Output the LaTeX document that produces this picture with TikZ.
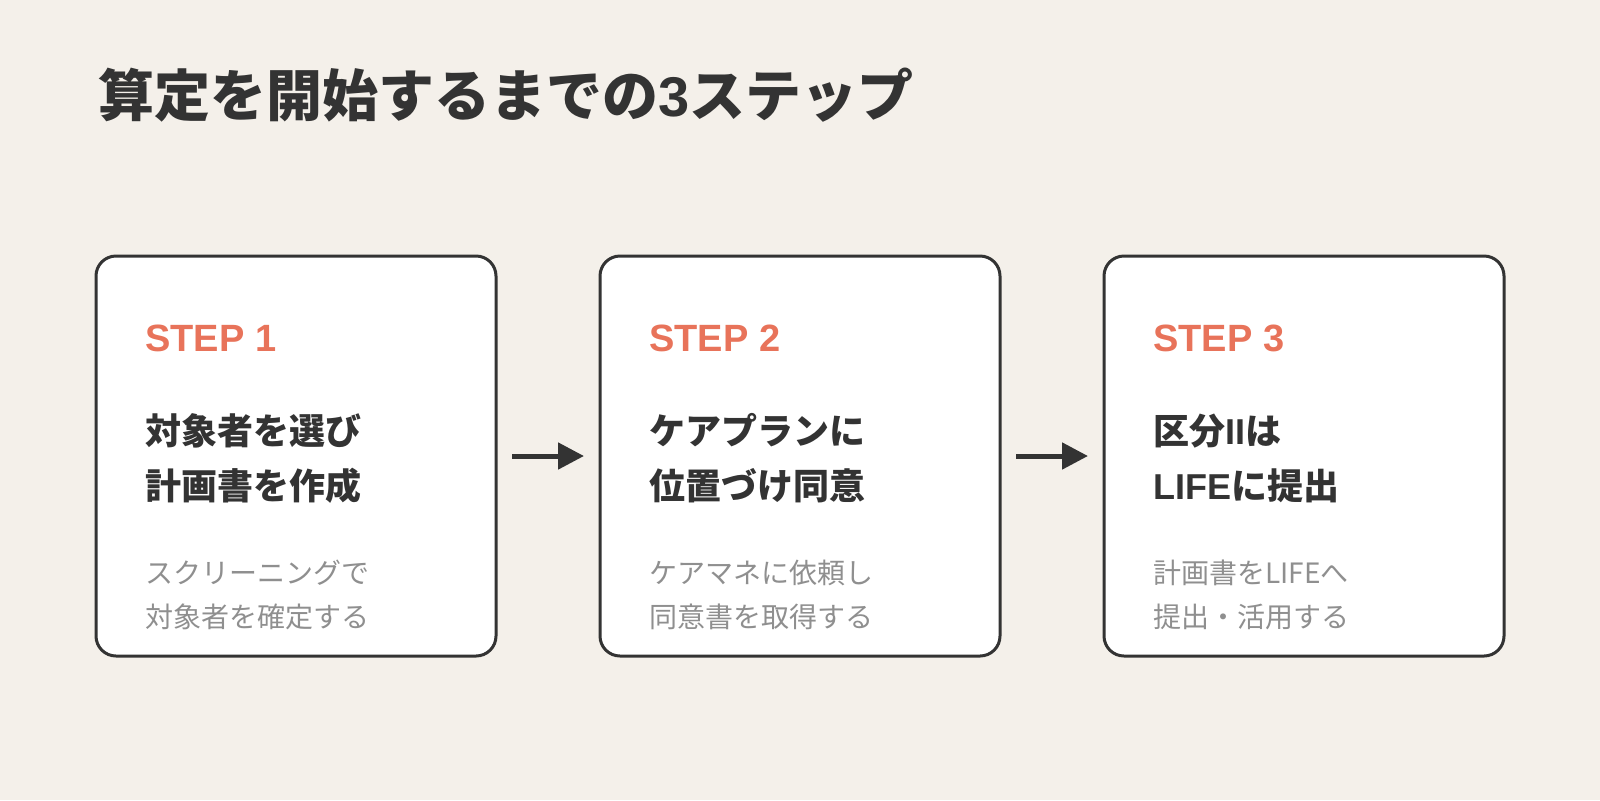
\documentclass[tikz,border=0pt]{standalone}
\usepackage{fontspec}
\setmainfont{Liberation Sans}
\newfontfamily\jp{Noto Sans CJK JP}
\newfontfamily\latinfont{Liberation Sans}
\usetikzlibrary{positioning, arrows.meta}
\definecolor{bgbeige}{HTML}{F4F0EA}
\definecolor{inkdark}{HTML}{333333}
\definecolor{steporange}{HTML}{E8735A}
\definecolor{notegray}{HTML}{8F8F8F}
\tikzstyle{card} = [draw=inkdark, line width=1.5pt, fill=white, rounded corners=10pt, minimum width=200pt, minimum height=200pt, inner sep=0pt, outer sep=0pt]
\tikzstyle{heading} = [anchor=west, inner sep=0pt, text=inkdark, font=\jp\fontsize{28}{34}\selectfont\bfseries]
\tikzstyle{steplabel} = [anchor=west, inner sep=0pt, text=steporange, font=\fontsize{19}{23}\selectfont\bfseries]
\tikzstyle{headline} = [anchor=west, inner sep=0pt, align=left, text=inkdark, font=\jp\fontsize{18}{27.5}\selectfont\bfseries]
\tikzstyle{note} = [anchor=west, inner sep=0pt, align=left, text=notegray, font=\jp\fontsize{14}{22}\selectfont]
\tikzstyle{arrow} = [line width=2.5pt, draw=inkdark, -{Triangle[length=13pt,width=13pt]}, shorten <=8pt, shorten >=8pt]
\begin{document}
\begin{tikzpicture}[x=0.5pt, y=-0.5pt]

\fill [bgbeige] (0,0) rectangle (1600,800);
\useasboundingbox (0,0) rectangle (1600,800);

\node (title) [heading] at (98,95) {算定を開始するまでの{\latinfont 3}ステップ};

% the three cards
\node (box1) [card] at (296,456) {};
\node (box2) [card, right=52pt of box1] {};
\node (box3) [card, right=52pt of box2] {};

\node (step1) [steplabel] at ([xshift=24.5pt,yshift=-41pt]box1.north west) {STEP 1};
\node (main1) [headline] at ([xshift=24.5pt,yshift=-101.25pt]box1.north west) {対象者を選び\\計画書を作成};
\node (note1) [note] at ([xshift=24.5pt,yshift=-169.5pt]box1.north west) {スクリーニングで\\対象者を確定する};

\node (step2) [steplabel] at ([xshift=24.5pt,yshift=-41pt]box2.north west) {STEP 2};
\node (main2) [headline] at ([xshift=24.5pt,yshift=-101.25pt]box2.north west) {ケアプランに\\位置づけ同意};
\node (note2) [note] at ([xshift=24.5pt,yshift=-169.5pt]box2.north west) {ケアマネに依頼し\\同意書を取得する};

\node (step3) [steplabel] at ([xshift=24.5pt,yshift=-41pt]box3.north west) {STEP 3};
\node (main3) [headline] at ([xshift=24.5pt,yshift=-101.25pt]box3.north west) {区分{\latinfont II}は\\{\latinfont LIFE}に提出};
\node (note3) [note] at ([xshift=24.5pt,yshift=-169.5pt]box3.north west) {計画書をLIFEへ\\提出・活用する};

\draw [arrow] (box1) -- (box2);
\draw [arrow] (box2) -- (box3);

\end{tikzpicture}
\end{document}
